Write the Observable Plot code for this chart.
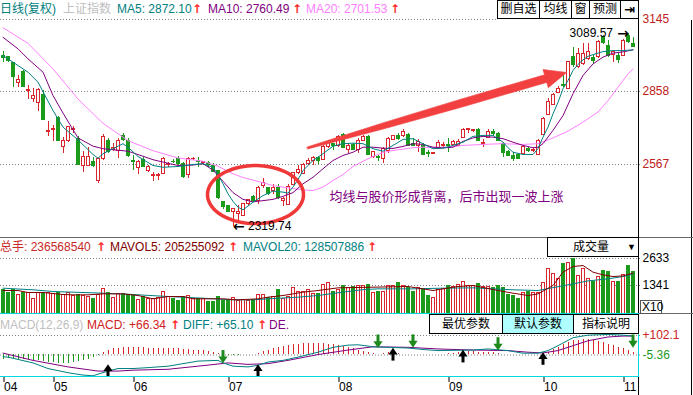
<!DOCTYPE html>
<html><head><meta charset="utf-8">
<script src="https://cdn.jsdelivr.net/npm/d3@7"></script>
<script src="https://cdn.jsdelivr.net/npm/@observablehq/plot@0.6"></script>
<style>
html,body{margin:0;padding:0;background:#fff;}
#wrap{position:relative;width:693px;height:395px;overflow:hidden;background:#fff;font-family:"Liberation Sans","Noto Sans CJK SC",sans-serif;font-size:12px;}
#wrap > svg{position:absolute;left:0;top:0;}
</style></head><body><div id="wrap"></div>
<script>
// ---------- data ----------
const open = [3001,2997,2971,2890,2935,2859,2828,2813,2846,2698,
2703,2752,2635,2660,2706,2670,2562,2562,2578,2500,
2589,2660,2626,2622,2682,2659,2582,2555,2585,2542,
2523,2521,2531,2566,2578,2589,2569,2526,2587,2580,
2572,2573,2562,2542,2416,2402,2378,2370,2363,2409,
2436,2423,2481,2473,2463,2473,2423,2407,2487,2535,
2529,2569,2580,2593,2585,2638,2649,2642,2686,2625,
2646,2625,2662,2678,2595,2598,2589,2619,2665,2680,
2680,2686,2649,2642,2642,2613,2610,2631,2642,2644,
2646,2642,2674,2704,2701,2706,2648,2674,2695,2690,
2649,2615,2602,2605,2609,2629,2620,2606,2686,2766,
2806,2853,2885,2869,2995,2955,2968,2988,2992,2995,
3075,3041,3005,3001,3001,3081,3048];
const high = [3018,2999,2975,2922,2942,2881,2868,2868,2862,2739,
2721,2758,2675,2720,2720,2677,2619,2635,2595,2595,
2686,2670,2649,2670,2691,2670,2602,2582,2595,2562,
2535,2531,2595,2575,2585,2598,2575,2595,2595,2593,
2578,2578,2569,2545,2416,2405,2392,2405,2413,2429,
2443,2479,2511,2476,2489,2489,2436,2487,2535,2562,
2571,2589,2598,2598,2642,2662,2649,2682,2689,2651,
2651,2670,2682,2682,2619,2602,2635,2673,2682,2689,
2707,2689,2670,2665,2649,2622,2615,2662,2655,2670,
2662,2666,2710,2710,2708,2710,2666,2706,2706,2694,
2655,2622,2615,2610,2638,2633,2629,2666,2755,2829,
2851,2876,2925,2979,3035,3028,3048,3048,3005,3061,
3081,3061,3018,3008,3064,3089.57,3075];
const low = [2974,2974,2875,2875,2875,2828,2815,2778,2742,2677,
2659,2659,2611,2656,2690,2562,2535,2558,2555,2490,
2582,2611,2619,2592,2659,2595,2542,2526,2555,2535,
2500,2502,2529,2555,2569,2562,2513,2513,2582,2555,
2562,2555,2535,2429,2389,2375,2319.74,2335,2360,2400,
2416,2409,2471,2443,2449,2429,2399,2403,2483,2526,
2526,2562,2562,2566,2582,2631,2622,2635,2629,2611,
2622,2609,2659,2602,2589,2580,2571,2611,2662,2662,
2675,2638,2638,2615,2602,2595,2606,2627,2631,2615,
2642,2640,2670,2690,2695,2659,2633,2670,2680,2659,
2595,2598,2578,2585,2606,2615,2615,2602,2682,2762,
2802,2849,2875,2864,2955,2949,2962,2981,2968,2988,
3045,2995,2975,2968,2997,3048,3035];
const close = [2990,2981,2915,2903,2875,2862,2842,2862,2746,2701,
2707,2659,2662,2715,2709,2566,2598,2595,2562,2589,
2678,2615,2631,2662,2665,2602,2575,2578,2558,2558,
2526,2524,2589,2569,2575,2569,2518,2589,2590,2576,
2575,2567,2539,2432,2396,2379,2390,2376,2411,2425,
2420,2473,2495,2449,2473,2433,2429,2479,2532,2545,
2566,2580,2593,2580,2638,2651,2642,2675,2633,2642,
2625,2662,2678,2606,2615,2594,2629,2670,2680,2670,
2697,2642,2642,2655,2606,2610,2613,2651,2646,2640,
2655,2658,2706,2707,2704,2662,2651,2697,2690,2662,
2611,2602,2589,2589,2635,2619,2623,2662,2749,2815,
2845,2867,2879,2975,2962,3008,3008,3015,2981,3055,
3051,3001,3015,2984,3061,3055,3037];
const volume = [1134,973,1134,893,1005,973,702,1005,1005,1005,
941,973,909,973,861,909,861,781,702,909,
1181,1005,749,941,941,909,861,654,781,702,
702,733,1021,813,702,622,813,861,702,702,
702,574,542,813,622,590,733,622,654,622,
654,893,893,733,813,1134,702,781,1228,1053,
1021,1134,941,941,1388,1467,1021,1134,1340,1228,
1260,1340,1340,1372,973,1021,1021,1340,1340,1452,
1340,1228,1021,1228,1181,861,749,1134,1181,1340,
1292,1388,1531,1340,1340,1420,1292,1292,1228,1340,
1228,909,861,702,973,1021,973,973,1452,2137,
1898,1659,2377,2409,2616,1818,2137,1659,1531,1738,
2058,1978,1499,1531,1866,2297,1978];
// moving-average lines, read as [index, value] points
const ma5 = [[0,3001],[2,2975],[5,2935],[7,2895],[10,2782],[12,2716],[15,2665],[18,2607],[19,2592],[20,2610],[22,2630],[24,2650],[25,2636],[27,2599],[30,2563],[32,2556],[35,2559],[38,2567],[40,2570],[42,2556],[43,2527],[44,2490],[45,2450],[46,2420],[47,2397],[48,2386],[50,2417],[52,2443],[54,2461],[56,2457],[57,2453],[58,2477],[59,2507],[60,2543],[62,2583],[64,2610],[66,2640],[68,2650],[70,2652],[72,2650],[74,2630],[76,2620],[78,2643],[80,2667],[82,2670],[84,2650],[86,2630],[88,2632],[90,2643],[92,2656],[94,2679],[96,2683],[98,2683],[100,2656],[101,2634],[102,2616],[104,2607],[106,2607],[107,2630],[108,2676],[109,2716],[110,2769],[111,2815],[112,2869],[113,2902],[114,2942],[115,2966],[116,2984],[117,2998],[118,3005],[120,3017],[122,3021],[124,3021],[126,3024]];
const ma10 = [[0,3074],[3,3028],[5,2988],[8,2935],[10,2842],[12,2772],[15,2673],[18,2640],[20,2630],[25,2620],[28,2600],[30,2586],[33,2572],[35,2563],[38,2565],[40,2570],[42,2545],[44,2500],[46,2455],[48,2428],[50,2418],[52,2423],[54,2428],[56,2440],[58,2455],[60,2490],[62,2516],[64,2550],[66,2583],[68,2603],[70,2616],[72,2636],[74,2636],[76,2632],[78,2631],[80,2639],[82,2650],[84,2647],[86,2636],[88,2633],[90,2636],[92,2659],[94,2673],[96,2679],[98,2676],[100,2670],[102,2656],[104,2643],[106,2634],[107,2636],[108,2650],[110,2703],[112,2762],[114,2849],[116,2922],[118,2968],[120,2995],[122,3011],[124,3016],[126,3024]];
const ma20 = [[0,3112],[5,3050],[10,2948],[15,2828],[20,2731],[25,2662],[30,2622],[35,2593],[40,2580],[43,2560],[46,2530],[48,2515],[50,2505],[52,2494],[54,2483],[56,2477],[58,2471],[60,2466],[62,2463],[64,2477],[66,2503],[68,2527],[70,2559],[72,2580],[74,2599],[76,2615],[78,2623],[80,2628],[82,2634],[84,2636],[86,2635],[88,2636],[90,2638],[92,2643],[96,2647],[100,2650],[104,2647],[107,2650],[110,2673],[113,2700],[116,2736],[119,2776],[121,2822],[123,2875],[125,2928],[126,2948]];
const mavol5 = [[0,1101],[3,1101],[5,1005],[8,1005],[12,909],[14,893],[17,893],[20,941],[24,941],[27,861],[30,702],[33,813],[36,813],[38,702],[44,702],[47,654],[51,702],[53,781],[56,861],[60,1021],[63,1101],[67,1228],[74,1260],[81,1292],[86,1101],[91,1292],[94,1340],[99,1101],[102,973],[105,861],[107,941],[110,1340],[112,1978],[114,2249],[116,2297],[118,1978],[120,1850],[122,1770],[124,1800],[126,1930]];
const mavol20 = [[0,1212],[6,1134],[10,1053],[16,1005],[20,973],[26,909],[33,813],[40,733],[46,654],[50,654],[53,702],[59,781],[63,861],[66,960],[69,1053],[72,1140],[75,1181],[82,1181],[88,1212],[94,1228],[102,1134],[107,1101],[113,1372],[117,1560],[121,1660],[124,1770],[126,1880]];
const macdBars = [-30,-25,-30,-28,-30,-32,-35,-38,-42,-45,-48,-50,-52,-50,-45,-40,-35,-28,-20,-10,
10,20,28,33,35,36,36,35,34,33,33,32,30,30,28,28,26,25,22,20,18,15,10,5,
-5,-8,-8,-6,-4,-2,-1,
5,12,22,30,37,42,46,50,55,57,58,60,60,58,55,50,45,40,35,28,20,12,6,2,
-3,4,6,5,3,-2,-3,-3,-2,-3,-3,-2,-2,-1,2,4,6,10,12,12,10,8,8,6,3,-3,-4,-5,-5,-5,-4,-3,-2,
5,10,25,37,50,64,72,77,82,80,77,70,64,55,46,37,28,19,10];
const diff = [[0,-15],[1,-17],[6,-49],[9,-80],[13,-103],[16,-116],[18,-120],[19,-111],[21,-94],[23,-80],[26,-80],[29,-75],[33,-67],[36,-53],[39,-39],[43,-35],[44,-49],[46,-67],[49,-71],[51,-62],[53,-44],[56,-35],[59,-17],[63,10],[66,37],[69,49],[71,51],[74,40],[81,33],[84,25],[87,19],[94,22],[97,28],[101,19],[104,4.5],[107,4.5],[109,19],[111,46],[114,90],[117,104],[121,108],[124,104],[126,99]];
const dea = [[0,5],[6,-35],[13,-71],[19,-94],[23,-94],[26,-89],[33,-84],[39,-67],[45,-49],[49,-57],[53,-53],[57,-35],[63,-3],[69,22],[74,40],[81,37],[87,28],[94,22],[101,19],[105,10],[108,6],[111,19],[114,46],[117,73],[121,94],[124,99],[126,99]];
const sellSignals = [{i:44,top:19,tip:-51},{i:75,top:105,tip:33},{i:82,top:105,tip:35},{i:99,top:90,tip:19},{i:126,top:105,tip:35}];
const buySignals = [{i:21,tip:-56,bottom:-126},{i:51,tip:-56,bottom:-126},{i:78,tip:35,bottom:-39},{i:92,tip:24,bottom:-49},{i:108,tip:10,bottom:-62}];
const monthIdx = [0,10,26,45,67,89,108,124];
const monthText = ["04","05","06","07","08","09","10","11"];
const priceTicks = [3145,2858,2567];
const volTicks = [2633,1341];
const macdTicks = [102.1,-5.36];
const noteText = "均线与股价形成背离，后市出现一波上涨";
// annotation geometry in data units (index, price)
const ellipseNote = {i:50.5, p:2447, ri:9.6, rp:115.6};
const trendArrow = [[60.84,2636.8],[76.1,2733.6],[91.4,2826.5],[108.3,2924.6],[107.98,2945.7],[112.74,2934.1],[109.06,2873.1],[108.74,2894.3],[91.84,2796.2],[76.42,2710.5],[60.96,2628.8]];

// ---------- build ----------
const RED = "#d8262c", GREEN = "#1c9a1c", TEAL = "#008080", PURPLE = "#800080", PINK = "#ff80ff";
const FONT = '"Liberation Sans","Noto Sans CJK SC",sans-serif';
const candles = open.map((o,i)=>({i, o, h: high[i], l: low[i], c: close[i], v: volume[i], m: macdBars[i]}));
const ups = candles.filter(d => d.c >= d.o), downs = candles.filter(d => d.c < d.o);
const base = {width: 693, height: 395, marginLeft: 0, marginRight: 53, marginTop: 0, marginBottom: 0,
  style: {background: "transparent", fontFamily: FONT, fontSize: "12px", overflow: "visible"}};
const X = {domain: [-0.5, 127.5], axis: null};
const P = d => d[0], V = d => d[1];

const ell = d3.range(0, 361, 4).map(a => ({i: ellipseNote.i + ellipseNote.ri*Math.cos(a*Math.PI/180), p: ellipseNote.p + ellipseNote.rp*Math.sin(a*Math.PI/180)}));
const lowC = candles[46], highC = candles[125];

const pricePlot = Plot.plot({...base, x: X, y: {domain: [2567, 3145], range: [164, 19], axis: null},
  marks: [
    Plot.ruleY([2858, 2567], {stroke: "#808080", strokeDasharray: "1,2"}),
    Plot.ruleX(ups, {x: "i", y1: "l", y2: "h", stroke: RED, shapeRendering: "crispEdges"}),
    Plot.ruleX(downs, {x: "i", y1: "l", y2: "h", stroke: GREEN, shapeRendering: "crispEdges"}),
    Plot.rect(downs, {x1: d => d.i - 0.3, x2: d => d.i + 0.3, y1: "o", y2: "c", fill: GREEN, stroke: GREEN, shapeRendering: "crispEdges"}),
    Plot.rect(ups, {x1: d => d.i - 0.3, x2: d => d.i + 0.3, y1: "o", y2: "c", fill: "white", stroke: RED, shapeRendering: "crispEdges"}),
    Plot.line(ma20, {x: P, y: V, stroke: PINK, strokeWidth: 1}),
    Plot.line(ma10, {x: P, y: V, stroke: PURPLE, strokeWidth: 1}),
    Plot.line(ma5, {x: P, y: V, stroke: TEAL, strokeWidth: 1}),
    Plot.line(ell, {x: "i", y: "p", stroke: "#f03838", strokeWidth: 3.5}),
    Plot.line(trendArrow, {x: P, y: V, fill: "#f24040", stroke: "#f24040", strokeWidth: 0.6, curve: "linear-closed"}),
    Plot.text([{i: 65.3, p: 2439}], {x: "i", y: "p", text: () => noteText, fill: PURPLE, fontSize: 13, textAnchor: "start"}),
    Plot.text([lowC], {x: "i", y: "l", text: () => "←", fill: "#000", textAnchor: "start", dx: 0, fontFamily: "DejaVu Sans", fontSize: 14, fontWeight: "bold"}),
    Plot.text([lowC], {x: "i", y: "l", text: d => d.l.toFixed(2), fill: "#000", textAnchor: "start", dx: 15}),
    Plot.text([highC], {x: "i", y: "h", text: () => "→", fill: "#000", textAnchor: "end", dx: 1, fontFamily: "DejaVu Sans", fontSize: 14, fontWeight: "bold"}),
    Plot.text([highC], {x: "i", y: "h", text: d => d.h.toFixed(2), fill: "#000", textAnchor: "end", dx: -15}),
    Plot.text(priceTicks, {x: 127.5, y: d => d, text: d => String(d), fill: "#c02020", textAnchor: "start", dx: 2})
  ]});

const volPlot = Plot.plot({...base, x: X, y: {domain: [0, 2633], range: [313, 258], axis: null},
  marks: [
    Plot.ruleY(volTicks, {stroke: "#808080", strokeDasharray: "1,2"}),
    Plot.rect(downs, {x1: d => d.i - 0.3, x2: d => d.i + 0.3, y1: 0, y2: "v", fill: GREEN, stroke: GREEN, shapeRendering: "crispEdges"}),
    Plot.rect(ups, {x1: d => d.i - 0.3, x2: d => d.i + 0.3, y1: 0, y2: "v", fill: "white", stroke: RED, shapeRendering: "crispEdges"}),
    Plot.line(mavol20, {x: P, y: V, stroke: TEAL, strokeWidth: 1}),
    Plot.line(mavol5, {x: P, y: V, stroke: "#800000", strokeWidth: 1}),
    Plot.text(volTicks, {x: 127.5, y: d => d, text: d => String(d), fill: "#000", textAnchor: "start", dx: 2})
  ]});

const headDown = {draw(ctx, size){ const r = Math.sqrt(size/Math.PI); ctx.moveTo(-r, -r*1.5); ctx.lineTo(r, -r*1.5); ctx.lineTo(0, 0); ctx.closePath(); }};
const headUp = {draw(ctx, size){ const r = Math.sqrt(size/Math.PI); ctx.moveTo(-r, r*1.5); ctx.lineTo(r, r*1.5); ctx.lineTo(0, 0); ctx.closePath(); }};
const monthLab = new Map(monthIdx.map((d,k) => [d, monthText[k]]));
const SGREEN = "#1e8a1e";

const macdPlot = Plot.plot({...base, marginBottom: 18, x: {domain: [-0.5, 127.5]}, y: {domain: [-5.36, 102.1], range: [354.5, 335], axis: null},
  marks: [
    Plot.ruleY(macdTicks, {stroke: "#808080", strokeDasharray: "1,2"}),
    Plot.ruleX(candles.filter(d => d.m > 0), {x: "i", y1: 0, y2: "m", stroke: RED, shapeRendering: "crispEdges"}),
    Plot.ruleX(candles.filter(d => d.m < 0), {x: "i", y1: 0, y2: "m", stroke: GREEN, shapeRendering: "crispEdges"}),
    Plot.line(dea, {x: P, y: V, stroke: PURPLE, strokeWidth: 1}),
    Plot.line(diff, {x: P, y: V, stroke: TEAL, strokeWidth: 1}),
    Plot.ruleX(sellSignals, {x: "i", y1: "top", y2: d => d.tip + 30, stroke: SGREEN, strokeWidth: 3}),
    Plot.dot(sellSignals, {x: "i", y: "tip", r: 4.6, symbol: headDown, fill: SGREEN, stroke: "none"}),
    Plot.ruleX(buySignals, {x: "i", y1: "bottom", y2: d => d.tip - 30, stroke: "#000", strokeWidth: 3}),
    Plot.dot(buySignals, {x: "i", y: "tip", r: 4.6, symbol: headUp, fill: "#000", stroke: "none"}),
    Plot.text([macdTicks[0]], {x: 127.5, y: d => d, text: d => "+" + d, fill: "#d02020", textAnchor: "start", dx: 2}),
    Plot.text([macdTicks[1]], {x: 127.5, y: d => d, text: d => String(d), fill: "#1c9a1c", textAnchor: "start", dx: 2}),
    Plot.axisX(monthIdx, {anchor: "bottom", tickSize: 5, tickPadding: 0, tickFormat: d => monthLab.get(d), textAnchor: "start", dx: 1, color: "#000", fontSize: 12, label: null})
  ]});

const W = document.getElementById("wrap");
W.append(pricePlot, volPlot, macdPlot);

// ---------- frame, headers and buttons (HTML) ----------
function el(css, html){ const d = document.createElement("div"); d.style.cssText = "position:absolute;" + css; if (html != null) d.textContent = html; W.appendChild(d); return d; }
function txt(x, y, s, color, more=""){ return el(`left:${x}px;top:${y}px;color:${color};white-space:nowrap;line-height:14px;${more}`, s); }
function upMark(x, y){ return txt(x, y, "↑", "#ff2a2a", "font-weight:bold;font-family:'DejaVu Sans';font-size:12px;"); }
function btn(x, y, w, h, s, bg="#fff"){ return el(`left:${x}px;top:${y}px;width:${w}px;height:${h}px;box-sizing:border-box;border:1px solid #000;background:${bg};color:#000;text-align:center;line-height:${h-2}px;white-space:nowrap;`, s); }
function hline(x, y, w, c){ el(`left:${x}px;top:${y}px;width:${w}px;height:1px;background:${c}`); }
function vline(x, y, h, c){ el(`left:${x}px;top:${y}px;width:1px;height:${h}px;background:${c}`); }
function dots(x, y, w){ el(`left:${x}px;top:${y}px;width:${w}px;height:1px;background:repeating-linear-gradient(to right,#808080 0 1px,transparent 1px 3px)`); }

// header row
txt(0, 2, "日线(复权)", TEAL);
txt(63, 2, "上证指数", "#c0c0c0");
txt(117, 2, "MA5: 2872.10", TEAL); upMark(192, 2);
txt(208, 2, "MA10: 2760.49", PURPLE); upMark(292, 2);
txt(306, 2, "MA20: 2701.53", PINK); upMark(390, 2);
dots(0, 19, 497);
btn(497, 0, 43, 19, "删自选");
btn(539, 0, 33, 19, "均线");
btn(571, 0, 19, 19, "窗");
btn(589, 0, 32, 19, "预测");
btn(620, 0, 19, 19, "⇥").style.cssText += "font-weight:bold;font-family:'DejaVu Sans';font-size:13px;";

// frame lines
vline(638, 0, 313, "#000");
vline(638, 313, 64, "#00d8e0");
vline(638, 377, 18, "#000");
vline(691, 20, 375, "#000");
hline(0, 237, 693, "#6a6a6a");
hline(0, 313, 638, "#00d8e0");
hline(639, 313, 54, "#6a6a6a");
hline(0, 376, 638, "#00d8e0");

// volume header
txt(0, 240, "总手: 236568540", "#c82828"); upMark(96, 240);
txt(110, 240, "MAVOL5: 205255092", "#800000"); upMark(228, 240);
txt(243, 240, "MAVOL20: 128507886", TEAL); upMark(367, 240);
el("left:547px;top:237px;width:92px;height:20px;box-sizing:border-box;border:1px solid #000;background:#fff;");
txt(573, 240, "成交量", "#000");
txt(627, 240, "▼", "#000", "font-size:9px;");
el("left:640px;top:300px;width:22px;height:14px;box-sizing:border-box;border:1px solid #555;background:#fff;color:#000;line-height:12px;font-size:12px;padding-left:1px;", "X10");

// macd header
txt(0, 318, "MACD(12,26,9)", "#c0c0c0");
txt(87, 318, "MACD: +66.34", "#d02020"); upMark(170, 318);
txt(183, 318, "DIFF: +65.10", TEAL); upMark(257, 318);
txt(269, 318, "DE.", PURPLE);
btn(429, 314, 74, 20, "最优参数");
btn(502, 314, 72, 20, "默认参数", "#b0ffff");
btn(573, 314, 66, 20, "指标说明");
</script></body></html>
